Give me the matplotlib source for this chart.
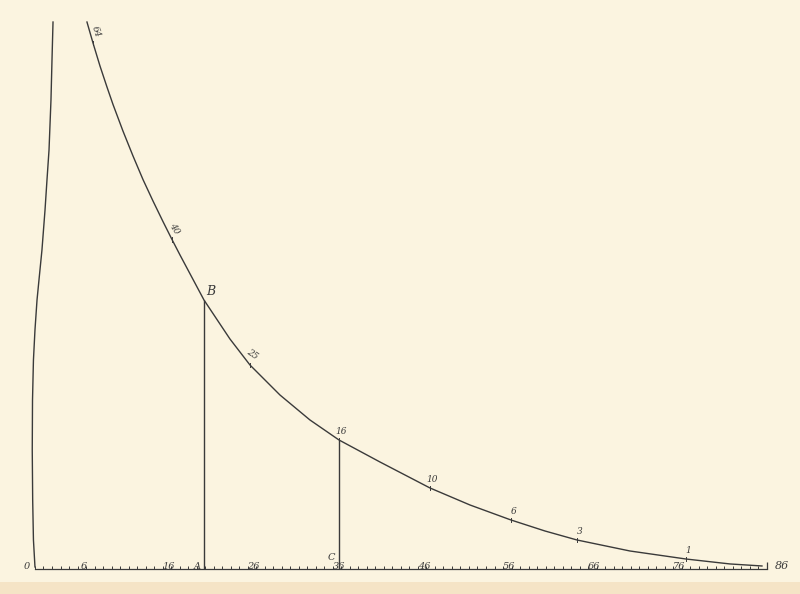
import numpy as np
import matplotlib.pyplot as plt

curve_x = [6.11, 6.82, 7.64, 8.46, 9.17, 10.34, 11.52, 12.69, 13.87, 15.04,
           16.10, 17.04, 19.86, 22.91, 25.26, 28.79, 32.31, 35.72, 40.54,
           46.42, 51.12, 55.93, 59.93, 63.69, 69.92, 76.5, 81.67, 85.43]
curve_y = [67.53, 64.94, 62.10, 59.51, 57.35, 54.07, 50.99, 48.09, 45.43,
           42.90, 40.68, 38.77, 33.21, 28.40, 25.19, 21.48, 18.40, 15.93,
           13.21, 10.0, 7.90, 6.05, 4.69, 3.58, 2.22, 1.23, 0.62, 0.37]

# левая кривая
left_x = [2.12, 2.0, 1.88, 1.65, 1.41, 1.18, 0.82, 0.47, 0.24, 0.0, -0.18,
          -0.29, -0.32, -0.27, -0.18, 0.0]
left_y = [67.53, 62.84, 57.9, 51.73, 48.02, 44.32, 39.38, 35.68, 33.21,
          29.51, 25.8, 20.86, 14.69, 8.52, 3.58, 0.25]

# подписи на кривой
curve_labels = ['64', '40', '25', '16', '10', '6', '3', '1']
label_idx = [1, 10, 14, 17, 19, 21, 23, 25]

# шкала абсцисс
axis_labels = ['0', '6', '16', '26', '36', '46', '56', '66', '76', '86']
axis_values = [0, 6, 16, 26, 36, 46, 56, 66, 76, 86]

# ординаты A-B и C
idx_B = 12
idx_C = 17

ink = '#3a3a3a'
paper = '#fbf4e0'

fig = plt.figure(figsize=(8, 5.94), dpi=100)
fig.patch.set_facecolor(paper)
ax = fig.add_axes([0, 0, 1, 1])
ax.set_facecolor(paper)
ax.set_xlim(-4.11, 89.9)
ax.set_ylim(-3.09, 70.25)
ax.axis('off')

# край страницы внизу
ax.axhspan(-3.09, -1.6, color='#f5e4c6', lw=0)

# ось абсцисс с делениями
ax.plot([0, 86], [0, 0], color=ink, lw=0.9)
ax.vlines(np.arange(0, 87), 0, 0.4, color=ink, lw=0.7)
ax.vlines(86, 0, 0.9, color=ink, lw=0.9)

txt = dict(family='DejaVu Serif', style='italic', color=ink)
for lab, v in zip(axis_labels, axis_values):
    if v == 0:
        ax.text(-0.6, 0.35, lab, ha='right', va='center', fontsize=7, **txt)
    elif v == 86:
        ax.text(87, 0.35, lab, ha='left', va='center', fontsize=8, **txt)
    else:
        ax.text(v - 0.3, 0.35, lab, ha='center', va='center', fontsize=7, **txt)

xB, yB = curve_x[idx_B], curve_y[idx_B]
xC, yC = curve_x[idx_C], curve_y[idx_C]
ax.text(xB - 0.4, 0.35, 'A', ha='right', va='center', fontsize=7, **txt)
ax.text(xC - 0.4, 1.4, 'C', ha='right', va='center', fontsize=7, **txt)

# кривые
ax.plot(curve_x, curve_y, color=ink, lw=1.0)
ax.plot(left_x, left_y, color=ink, lw=1.0)

# ординаты
ax.vlines(xB, 0, yB, color=ink, lw=1.0)
ax.vlines(xC, 0, yC, color=ink, lw=1.0)
ax.text(xB + 0.3, yB + 0.3, 'B', ha='left', va='bottom', fontsize=9, **txt)

# подписи вдоль кривой
rots = [-72, -58, -35, 0, 0, 0, 0, 0]
for lab, i, r in zip(curve_labels, label_idx, rots):
    x, y = curve_x[i], curve_y[i]
    ax.plot([x, x], [y - 0.3, y + 0.3], color=ink, lw=0.7)
    ax.text(x + 0.3, y + 0.5, lab, ha='center', va='bottom', rotation=r,
            fontsize=6.5, **txt)

fig.savefig('out.png', dpi=100, facecolor=paper)
